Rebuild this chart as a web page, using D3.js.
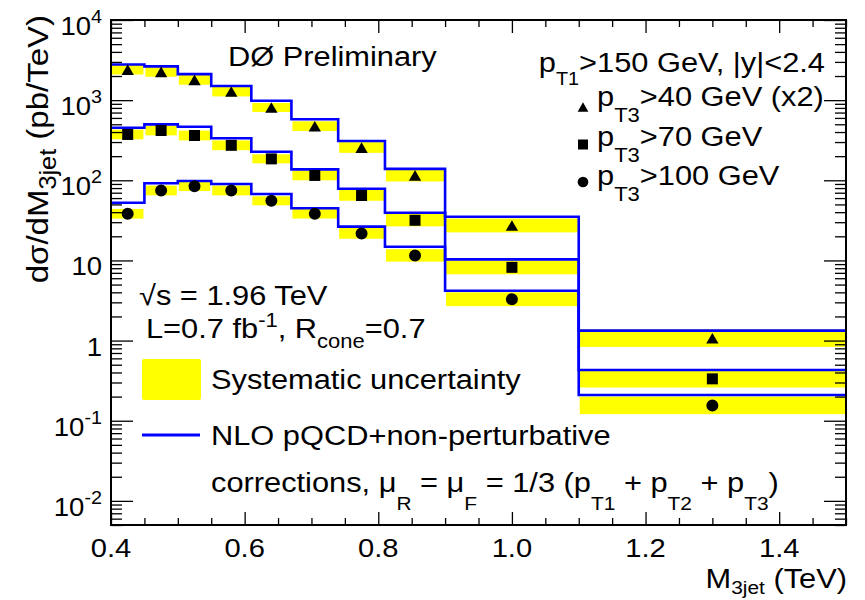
<!DOCTYPE html>
<html>
<head>
<meta charset="utf-8">
<script src="https://cdn.jsdelivr.net/npm/d3@7"></script>
<style>
  html, body { margin: 0; padding: 0; background: #fff; }
  text { font-family: "Liberation Sans", Arial, Helvetica, sans-serif; fill: #000; }
</style>
</head>
<body>
<script>
// ---------------- data ----------------
const binEdges   = [0.40, 0.45, 0.50, 0.55, 0.61, 0.67, 0.74, 0.81, 0.90, 1.10, 1.50];
const binCenters = [0.425, 0.475, 0.525, 0.58, 0.64, 0.705, 0.775, 0.855, 1.00, 1.30];

// measured cross sections (pb/TeV)
const dataPt40x2 = [2400, 2250, 1790, 1280, 810, 473, 256, 115, 27.3, 1.07];
const dataPt70   = [373, 418, 362, 273, 185, 115, 64.6, 31.7, 8.2, 0.333];
const dataPt100  = [38.2, 74.6, 84.4, 74.6, 55.4, 38.3, 21.7, 11.5, 3.28, 0.155];

// NLO pQCD + non-perturbative corrections
const nloPt40x2  = [2780, 2640, 2110, 1500, 984, 577, 309, 139, 35.1, 1.33];
const nloPt70    = [453, 499, 466, 334, 227, 137, 78.5, 39.4, 10.3, 0.429];
const nloPt100   = [52.5, 91.7, 97.9, 89.9, 67.4, 44.7, 26.4, 14.8, 4.19, 0.209];

// relative systematic uncertainty (up / down fractions) per bin
const sysUp   = [0.15, 0.15, 0.15, 0.15, 0.14, 0.15, 0.17, 0.20, 0.22, 0.29];
const sysDown = [0.13, 0.13, 0.13, 0.13, 0.12, 0.13, 0.14, 0.16, 0.18, 0.22];

// axis ticks
const xTickValues = [0.4, 0.6, 0.8, 1.0, 1.2, 1.4];
const xTickLabels = ["0.4", "0.6", "0.8", "1.0", "1.2", "1.4"];
const yTickValues = [0.01, 0.1, 1, 10, 100, 1000, 10000];
const yTickLabels = [["10", "-2"], ["10", "-1"], ["1", ""], ["10", ""], ["10", "2"], ["10", "3"], ["10", "4"]];

// ---------------- layout ----------------
const W = 865, H = 600;
const L = 111, R = 846, T = 20, B = 525;
const SX = 1.1; // horizontal text stretch of the original
const BLUE = "#0000ff", YELLOW = "#ffff00";

const svg = d3.select("body").append("svg").attr("width", W).attr("height", H);
svg.append("rect").attr("width", W).attr("height", H).attr("fill", "#fff");

const x = d3.scaleLinear().domain([0.4, 1.5]).range([L, R]);
const y = d3.scaleLog().domain([0.005, 1e4]).range([B, T]);

// rich text helper: segs = [[text, kind]], kind: undefined | 'sub' | 'sup'
function rich(g, px, py, segs, o = {}) {
  const size = o.size || 28, subSize = o.subSize || size * 0.68;
  const subDy = o.subDy != null ? o.subDy : size * 0.45;
  const supDy = o.supDy != null ? o.supDy : size * 0.4;
  const t = g.append("text")
    .attr("transform", `translate(${px},${py}) rotate(${o.rotate || 0}) scale(${o.sx || SX},1)`)
    .attr("text-anchor", o.anchor || "start")
    .attr("font-size", size);
  let shift = 0;
  segs.forEach(([s, k]) => {
    const target = k === "sub" ? subDy : k === "sup" ? -supDy : 0;
    const ts = t.append("tspan").text(s).attr("dy", target - shift);
    shift = target;
    if (k) ts.attr("font-size", subSize);
  });
  return t;
}

// ---------------- systematic bands ----------------
const gBands = svg.append("g");
[dataPt40x2, dataPt70, dataPt100].forEach(series => {
  gBands.selectAll(null).data(series).enter().append("rect")
    .attr("x", (d, i) => x(binEdges[i]) + 1)
    .attr("width", (d, i) => x(binEdges[i + 1]) - x(binEdges[i]) - 2)
    .attr("y", (d, i) => y(d * (1 + sysUp[i])))
    .attr("height", (d, i) => y(d * (1 - sysDown[i])) - y(d * (1 + sysUp[i])))
    .attr("fill", YELLOW);
});

// ---------------- NLO histograms ----------------
const step = d3.line().x(p => x(p[0])).y(p => y(p[1])).curve(d3.curveStepAfter);
[nloPt40x2, nloPt70, nloPt100].forEach(series => {
  const pts = series.map((v, i) => [binEdges[i], v]);
  pts.push([binEdges[binEdges.length - 1], series[series.length - 1]]);
  svg.append("path").attr("d", step(pts))
    .attr("fill", "none").attr("stroke", BLUE).attr("stroke-width", 2.6);
});

// ---------------- markers ----------------
const rootTriangle = {
  draw(ctx, size) {
    const h = Math.sqrt(size) * 0.95, w = h * 0.58;
    ctx.moveTo(0, -h / 2); ctx.lineTo(w, h / 2); ctx.lineTo(-w, h / 2); ctx.closePath();
  }
};
const markerDefs = [
  { series: dataPt40x2, type: rootTriangle, size: 125 },
  { series: dataPt70, type: d3.symbolSquare, size: 121 },
  { series: dataPt100, type: d3.symbolCircle, size: 113 }
];
markerDefs.forEach(m => {
  svg.append("g").selectAll(null).data(m.series).enter().append("path")
    .attr("transform", (d, i) => `translate(${x(binCenters[i])},${y(d)})`)
    .attr("d", d3.symbol().type(m.type).size(m.size)())
    .attr("fill", "#000");
});

// ---------------- axes (ticks) ----------------
const xMinor = d3.range(0.45, 1.5001, 0.05).filter(v => !xTickValues.some(t => Math.abs(t - v) < 1e-6));
const yMinor = [];
[0.001, 0.01, 0.1, 1, 10, 100, 1000].forEach(dec => {
  for (let k = 2; k <= 9; k++) { const v = dec * k; if (v >= 0.005 && v <= 1e4) yMinor.push(v); }
});
function ticks(gen, tr, vals, len) {
  const g = svg.append("g").attr("transform", tr)
    .call(gen.tickValues(vals).tickSize(-len).tickFormat(""));
  g.select(".domain").remove();
  g.selectAll(".tick line").attr("stroke", "#000").attr("stroke-width", 1.3);
}
ticks(d3.axisBottom(x), `translate(0,${B})`, xTickValues, 13);
ticks(d3.axisBottom(x), `translate(0,${B})`, xMinor, 7);
ticks(d3.axisTop(x), `translate(0,${T})`, xTickValues, 13);
ticks(d3.axisTop(x), `translate(0,${T})`, xMinor, 7);
ticks(d3.axisLeft(y), `translate(${L},0)`, yTickValues, 22);
ticks(d3.axisLeft(y), `translate(${L},0)`, yMinor, 11);
ticks(d3.axisRight(y), `translate(${R},0)`, yTickValues, 22);
ticks(d3.axisRight(y), `translate(${R},0)`, yMinor, 11);

svg.append("rect").attr("x", L).attr("y", T).attr("width", R - L).attr("height", B - T)
  .attr("fill", "none").attr("stroke", "#000").attr("stroke-width", 2);

// tick labels
xTickValues.forEach((v, i) => {
  rich(svg, x(v), 557, [[xTickLabels[i]]], { size: 26.5, anchor: "middle" });
});
yTickValues.forEach((v, i) => {
  const [base, exp] = yTickLabels[i];
  const segs = exp ? [[base], [exp, "sup"]] : [[base]];
  rich(svg, 102, y(v) + 15, segs, { size: 25, anchor: "end", subSize: 18, supDy: 12 });
});

// axis titles
rich(svg, 847, 588, [["M"], ["3jet", "sub"], [" (TeV)"]], { size: 28, anchor: "end", subSize: 19, subDy: 6 });
rich(svg, 48, 15, [["dσ/dM"], ["3jet", "sub"], [" (pb/TeV)"]], { size: 30, anchor: "end", rotate: -90, subSize: 23, subDy: 8, sx: 1.1 });

// ---------------- annotations ----------------
rich(svg, 228, 66, [["DØ Preliminary"]], { size: 28 });
rich(svg, 825, 72, [["p"], ["T1", "sub"], [">150 GeV, |y|<2.4"]], { size: 28, anchor: "end", subSize: 18, subDy: 13 });

const legRows = [
  { segs: [["p"], ["T3", "sub"], [">40 GeV (x2)"]], base: 106, my: 107, type: rootTriangle, size: 95 },
  { segs: [["p"], ["T3", "sub"], [">70 GeV"]], base: 145.5, my: 144.5, type: d3.symbolSquare, size: 100 },
  { segs: [["p"], ["T3", "sub"], [">100 GeV"]], base: 185, my: 182, type: d3.symbolCircle, size: 90 }
];
legRows.forEach(r => {
  rich(svg, 597, r.base, r.segs, { size: 28, subSize: 20, subDy: 16 });
  svg.append("path").attr("transform", `translate(583,${r.my})`)
    .attr("d", d3.symbol().type(r.type).size(r.size)()).attr("fill", "#000");
});

rich(svg, 139, 305, [["√s = 1.96 TeV"]], { size: 28 });
rich(svg, 146, 338, [["L=0.7 fb"], ["-1", "sup"], [", R"], ["cone", "sub"], ["=0.7"]],
  { size: 28, subSize: 20, subDy: 10, supDy: 11 });

svg.append("rect").attr("x", 142).attr("y", 359).attr("width", 59).attr("height", 41)
  .attr("rx", 2).attr("fill", YELLOW);
rich(svg, 211, 389, [["Systematic uncertainty"]], { size: 28 });

svg.append("line").attr("x1", 142).attr("x2", 200).attr("y1", 435).attr("y2", 435)
  .attr("stroke", BLUE).attr("stroke-width", 3);
rich(svg, 211, 445, [["NLO pQCD+non-perturbative"]], { size: 28 });
rich(svg, 211, 492, [["corrections, μ"], ["R", "sub"], [" = μ"], ["F", "sub"], [" = 1/3 (p"], ["T1", "sub"],
  [" + p"], ["T2", "sub"], [" + p"], ["T3", "sub"], [")"]], { size: 28, subSize: 19, subDy: 18 });
</script>
</body>
</html>
